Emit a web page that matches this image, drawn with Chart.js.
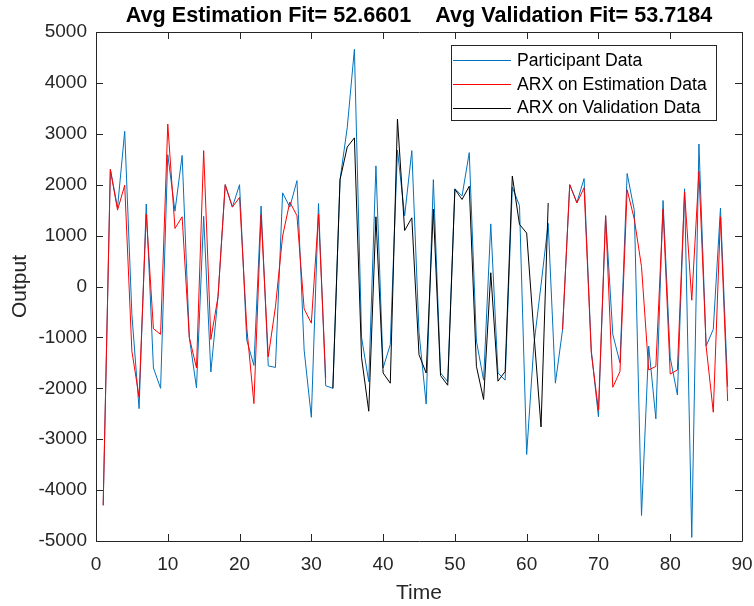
<!DOCTYPE html>
<html>
<head>
<meta charset="utf-8">
<script src="https://cdn.jsdelivr.net/npm/chart.js@4"></script>
<style>
  html, body { margin: 0; padding: 0; background: #fff; }
  #wrap { width: 754px; height: 606px; }
</style>
</head>
<body>
<div id="wrap"><canvas id="fitChart" width="754" height="606"></canvas></div>
<script>
const FONT = '"Liberation Sans", Arial, Helvetica, sans-serif';
const AXIS_COLOR = '#262626';

const chartTitle = 'Avg Estimation Fit= 52.6601    Avg Validation Fit= 53.7184';

const timeSteps = [
  1, 2, 3, 4, 5, 6, 7, 8, 9, 10, 11, 12, 13, 14, 15, 16, 17, 18, 19, 20, 21, 22,
  23, 24, 25, 26, 27, 28, 29, 30, 31, 32, 33, 34, 35, 36, 37, 38, 39, 40, 41, 42, 43, 44,
  45, 46, 47, 48, 49, 50, 51, 52, 53, 54, 55, 56, 57, 58, 59, 60, 61, 62, 63, 64, 65, 66,
  67, 68, 69, 70, 71, 72, 73, 74, 75, 76, 77, 78, 79, 80, 81, 82, 83, 84, 85, 86, 87, 88
];

const participantData = [
  -4300, 2300, 1550, 3050, -550, -2400, 1620, -1600, -2000, 2590, 1480, 2575, -1000, -1990, 1380, -1680, -200, 2000, 1560, 2000, -1050, -1550,
  1580, -1560, -1590, 1840, 1560, 2080, -1250, -2570, 1630, -1950, -2000, 2100, 3120, 4660, -1000, -1870, 2370, -1600, -1140, 2680, 1390, 2670,
  -900, -2310, 2100, -1700, -1870, 1920, 1780, 2630, -1070, -1840, 1230, -1700, -1840, 1950, 1590, -3300, -1150, 30, 1240, -1900, -850, 2000,
  1650, 2120, -1250, -2560, 1390, -940, -1500, 2220, 1490, -4500, -1170, -2600, 1690, -1400, -2130, 1920, -4930, 2800, -1170, -840, 1540, -1970
];

// ARX on estimation data (gap where the validation block sits)
const estimationFit = [
  -4300, 2300, 1500, 1990, -1270, -2170, 1420, -830, -940, 3190, 1140, 1370, -1000, -1600, 2670, -1040, -200, 2000, 1560, 1750, -800, -2300,
  1410, -1380, -400, 990, 1660, 1390, -440, -720, 1420, -1790, null, null, null, null, null, null, null, null, null, null, null, null,
  null, null, null, null, null, null, null, null, null, null, null, null, null, null, null, null, null, null, null, null, -850, 2000,
  1640, 1940, -1300, -2430, 1390, -1980, -1670, 1900, 1320, 390, -1640, -1570, 1520, -1720, -1640, 1860, -270, 2260, -1170, -2470, 1370, -2250
];

// ARX on validation data (steps 33..63)
const validationFit = [
  null, null, null, null, null, null, null, null, null, null, null, null, null, null, null, null, null, null, null, null, null, null,
  null, null, null, null, null, null, null, null, null, null, -2000, 2100, 2740, 2920, -1400, -2450, 1370, -1700, -1900, 3290, 1100, 1350,
  -1340, -1700, 1520, -1750, -1940, 1910, 1710, 1970, -1570, -2220, 270, -1860, -1670, 2170, 1220, 1050, -900, -2760, 1640, null, null, null,
  null, null, null, null, null, null, null, null, null, null, null, null, null, null, null, null, null, null, null, null, null, null
];

const xTicks = [0, 10, 20, 30, 40, 50, 60, 70, 80, 90];
const yTicks = [-5000, -4000, -3000, -2000, -1000, 0, 1000, 2000, 3000, 4000, 5000];

function toPoints(values) {
  return timeSteps.map((t, i) => ({ x: t, y: values[i] }));
}

// box, inward tick marks, title and legend, MATLAB style
const matlabFrame = {
  id: 'matlabFrame',
  afterDraw(chart) {
    const ctx = chart.ctx;
    const area = chart.chartArea;
    const xs = chart.scales.x;
    const ys = chart.scales.y;
    const tickLen = 7;

    ctx.save();
    ctx.strokeStyle = AXIS_COLOR;
    ctx.lineWidth = 1;
    ctx.beginPath();
    ctx.rect(Math.round(area.left) + 0.5, Math.round(area.top) + 0.5,
      Math.round(area.right - area.left), Math.round(area.bottom - area.top));
    xTicks.forEach(v => {
      const px = Math.round(xs.getPixelForValue(v)) + 0.5;
      ctx.moveTo(px, area.bottom); ctx.lineTo(px, area.bottom - tickLen);
      ctx.moveTo(px, area.top); ctx.lineTo(px, area.top + tickLen);
    });
    yTicks.forEach(v => {
      const py = Math.round(ys.getPixelForValue(v)) + 0.5;
      ctx.moveTo(area.left, py); ctx.lineTo(area.left + tickLen, py);
      ctx.moveTo(area.right, py); ctx.lineTo(area.right - tickLen, py);
    });
    ctx.stroke();

    // title
    ctx.fillStyle = '#000';
    ctx.font = 'bold 21.6px ' + FONT;
    ctx.textAlign = 'center';
    ctx.textBaseline = 'middle';
    ctx.fillText(chartTitle, (area.left + area.right) / 2, 16);

    // legend
    const lg = { left: 451, top: 45, right: 716, bottom: 120 };
    ctx.fillStyle = '#fff';
    ctx.fillRect(lg.left, lg.top, lg.right - lg.left, lg.bottom - lg.top);
    ctx.strokeStyle = AXIS_COLOR;
    ctx.strokeRect(lg.left + 0.5, lg.top + 0.5, lg.right - lg.left, lg.bottom - lg.top);
    ctx.font = '17.6px ' + FONT;
    ctx.textAlign = 'left';
    chart.data.datasets.forEach((ds, i) => {
      const y = 60 + i * 23.8;
      ctx.strokeStyle = ds.borderColor;
      ctx.beginPath();
      ctx.moveTo(453, Math.round(y) + 0.5);
      ctx.lineTo(511, Math.round(y) + 0.5);
      ctx.stroke();
      ctx.fillStyle = '#000';
      ctx.fillText(ds.label, 517, y + 1);
    });
    ctx.restore();
  }
};

new Chart(document.getElementById('fitChart'), {
  type: 'line',
  data: {
    datasets: [{
      label: 'Participant Data',
      data: toPoints(participantData),
      borderColor: '#0072BD',
      borderWidth: 1,
      pointRadius: 0,
      fill: false,
      tension: 0,
      order: 3
    }, {
      label: 'ARX on Estimation Data',
      data: toPoints(estimationFit),
      borderColor: '#FF0000',
      borderWidth: 1,
      pointRadius: 0,
      fill: false,
      tension: 0,
      spanGaps: false,
      order: 2
    }, {
      label: 'ARX on Validation Data',
      data: toPoints(validationFit),
      borderColor: '#000000',
      borderWidth: 1,
      pointRadius: 0,
      fill: false,
      tension: 0,
      spanGaps: false,
      order: 1
    }]
  },
  plugins: [matlabFrame],
  options: {
    responsive: false,
    animation: false,
    events: [],
    layout: { padding: { top: 32, right: 12, left: 0, bottom: 0 } },
    plugins: {
      legend: { display: false },
      title: { display: false },
      tooltip: { enabled: false }
    },
    scales: {
      x: {
        type: 'linear',
        min: 0,
        max: 90,
        // fixed axis box; don't let the end labels shrink the plot area
        afterFit: s => { s.height = 65; s.paddingLeft = 0; s.paddingRight = 0; },
        afterBuildTicks: s => { s.ticks = xTicks.map(v => ({ value: v })); },
        grid: { display: false, drawTicks: false },
        border: { display: false },
        ticks: { color: AXIS_COLOR, font: { family: FONT, size: 19 }, padding: 12, maxRotation: 0 },
        title: { display: true, text: 'Time', color: AXIS_COLOR, font: { family: FONT, size: 21 }, padding: { top: 0, bottom: 0 } }
      },
      y: {
        type: 'linear',
        min: -5000,
        max: 5000,
        afterFit: s => { s.width = 96; s.paddingTop = 0; s.paddingBottom = 0; },
        afterBuildTicks: s => { s.ticks = yTicks.map(v => ({ value: v })); },
        grid: { display: false, drawTicks: false },
        border: { display: false },
        ticks: { color: AXIS_COLOR, font: { family: FONT, size: 19 }, padding: 9, callback: v => String(v) },
        title: { display: true, text: 'Output', color: AXIS_COLOR, font: { family: FONT, size: 21 }, padding: { top: 8, bottom: 0 } }
      }
    }
  }
});
</script>
</body>
</html>
